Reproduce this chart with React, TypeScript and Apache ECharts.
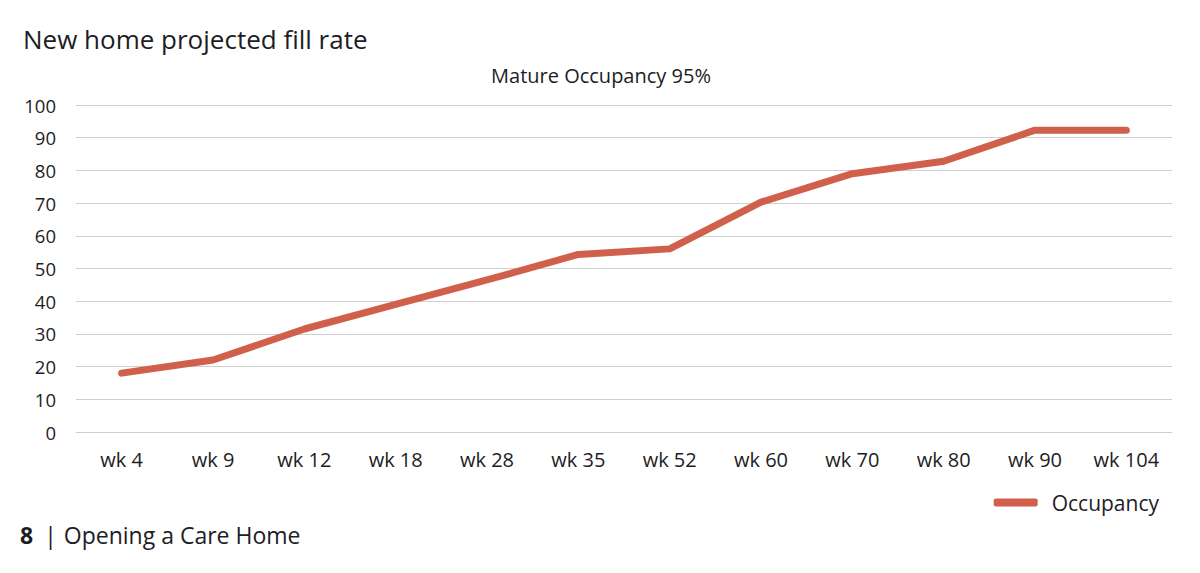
import React, { useEffect, useRef } from "react";
import * as echarts from "echarts";

const categories = ["wk 4", "wk 9", "wk 12", "wk 18", "wk 28", "wk 35", "wk 52", "wk 60", "wk 70", "wk 80", "wk 90", "wk 104"];
const occupancy = [18, 22, 31.5, 39, 46.5, 54.3, 56, 70.3, 79, 82.8, 92.3, 92.3];
const seriesName = "Occupancy";
const titleText = "New home projected fill rate";
const subtitleText = "Mature Occupancy 95%";
const footerNumber = "8";
const footerText = "Opening a Care Home";

const FONT = "'Open Sans', Lato, sans-serif";
const TEXT = "#1d1d24";

export default function App() {
  const ref = useRef<HTMLDivElement>(null);
  useEffect(() => {
    if (!ref.current) return;
    const chart = echarts.init(ref.current, undefined, { renderer: "svg" });
    chart.setOption({
      animation: false,
      backgroundColor: "#ffffff",
      textStyle: { fontFamily: FONT, color: TEXT },
      title: [
        { text: titleText, left: 18, top: 21, textStyle: { fontFamily: FONT, fontSize: 26, fontWeight: "normal", color: TEXT } },
        { text: subtitleText, left: 596, textAlign: "center", top: 60, textStyle: { fontFamily: FONT, fontSize: 20, fontWeight: "normal", color: TEXT } },
      ],
      legend: {
        data: [seriesName],
        right: 36,
        top: 487,
        icon: "roundRect",
        itemWidth: 44,
        itemHeight: 8,
        itemGap: 10,
        textStyle: { fontFamily: FONT, fontSize: 21, color: TEXT, padding: [0, 0, 0, 9] },
      },
      grid: { left: 76, right: 28, top: 105, bottom: 141, containLabel: false },
      xAxis: {
        type: "category",
        data: categories,
        boundaryGap: true,
        axisLine: { show: true, lineStyle: { color: "#d0d0d0", width: 1 } },
        axisTick: { show: false },
        axisLabel: { fontFamily: FONT, fontSize: 20, color: TEXT, margin: 17 },
      },
      yAxis: {
        type: "value",
        min: 0,
        max: 100,
        interval: 10,
        axisLine: { show: false },
        axisTick: { show: false },
        axisLabel: { fontFamily: FONT, fontSize: 18.5, color: TEXT, margin: 20 },
        splitLine: { lineStyle: { color: "#d0d0d0", width: 1 } },
      },
      series: [
        {
          name: seriesName,
          type: "line",
          data: occupancy,
          showSymbol: false,
          symbol: "none",
          lineStyle: { color: "#d0604b", width: 7, cap: "round", join: "round" },
          itemStyle: { color: "#d0604b" },
        },
      ],
      graphic: [
        {
          type: "text",
          left: 20,
          top: 523,
          style: {
            text: `{b|${footerNumber}}{s||}{n|${footerText}}`,
            rich: {
              b: { fontFamily: FONT, fontSize: 23, fontWeight: "bold", fill: TEXT },
              s: { fontFamily: FONT, fontSize: 23, fill: TEXT, padding: [0, 7, 0, 11] },
              n: { fontFamily: FONT, fontSize: 23, fill: TEXT },
            },
          },
        },
      ],
    });
    return () => chart.dispose();
  }, []);
  return <div ref={ref} style={{ position: "absolute", left: 0, top: 0, width: 1200, height: 573 }} />;
}
